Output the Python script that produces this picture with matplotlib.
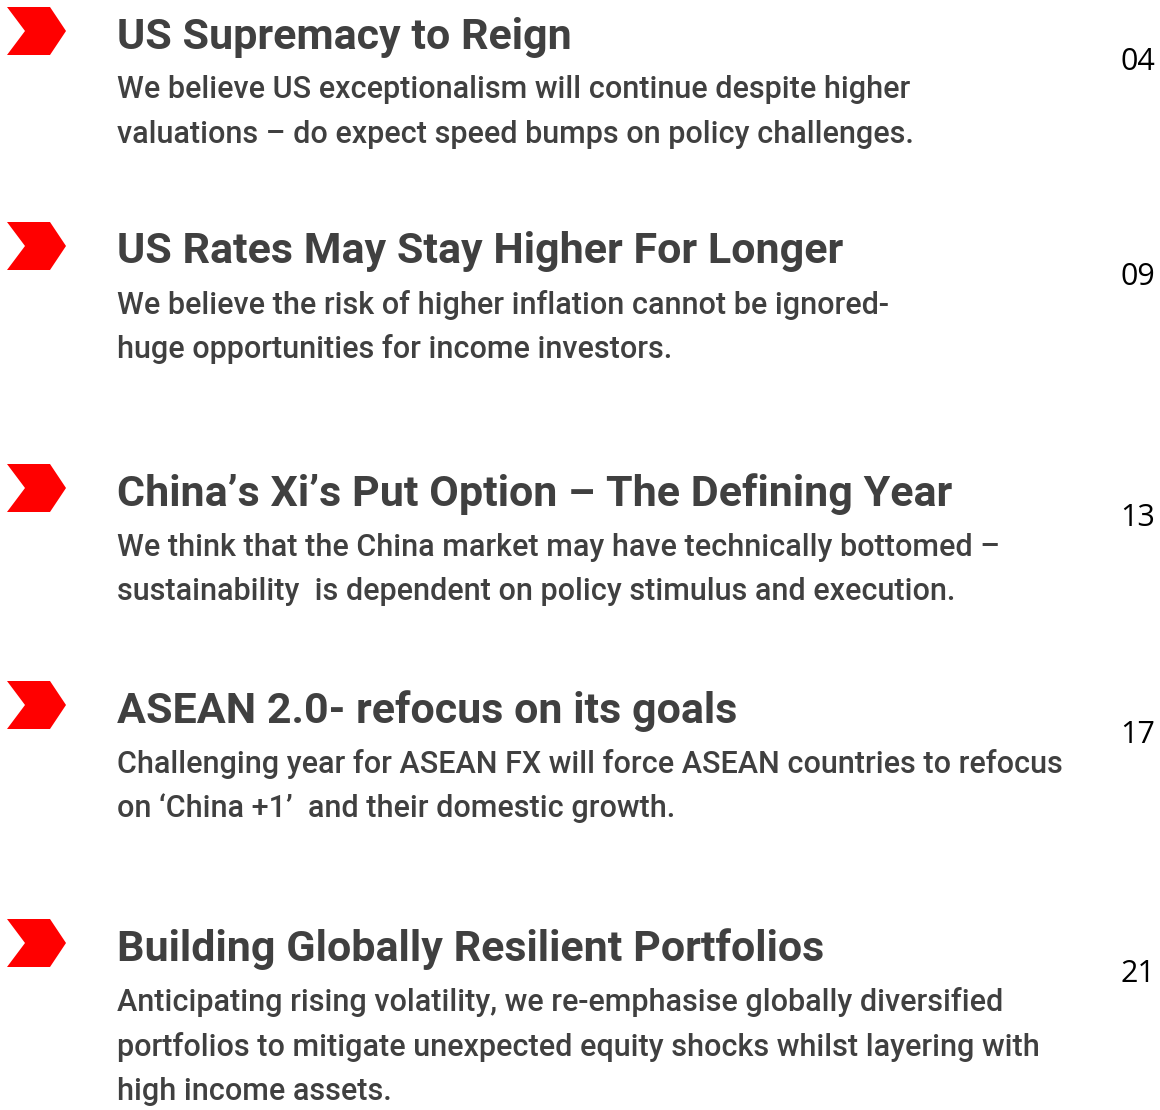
import matplotlib.pyplot as plt
from matplotlib import font_manager
from matplotlib.patches import Polygon

# no condensed face installed, fall back to Roboto
names = {f.name for f in font_manager.fontManager.ttflist}
head_font = 'Liberation Sans Narrow' if 'Liberation Sans Narrow' in names else 'Roboto'

titles = [
    "US Supremacy to Reign",
    "US Rates May Stay Higher For Longer",
    "China\u2019s Xi\u2019s Put Option \u2013 The Defining Year",
    "ASEAN 2.0- refocus on its goals",
    "Building Globally Resilient Portfolios",
]
bodies = [
    ["We believe US exceptionalism will continue despite higher",
     "valuations \u2013 do expect speed bumps on policy challenges."],
    ["We believe the risk of higher inflation cannot be ignored-",
     "huge opportunities for income investors."],
    ["We think that the China market may have technically bottomed \u2013",
     "sustainability  is dependent on policy stimulus and execution."],
    ["Challenging year for ASEAN FX will force ASEAN countries to refocus",
     "on \u2018China +1\u2019  and their domestic growth."],
    ["Anticipating rising volatility, we re-emphasise globally diversified",
     "portfolios to mitigate unexpected equity shocks whilst layering with",
     "high income assets."],
]
pages = ["04", "09", "13", "17", "21"]

# vertical layout (pixel rows)
title_y = [37, 252, 494, 711, 949]
page_y = [62, 277, 518, 735, 974]
line_gap = 44.5

fig = plt.figure(figsize=(11.6, 11.1), dpi=100)
ax = fig.add_axes([0, 0, 1, 1])
ax.set_xlim(0, 1160)
ax.set_ylim(1110, 0)
ax.axis('off')

text_col = '#404040'
# chevron outline relative to its centre
chev = [(-30, -24), (13, -24), (29, 0), (13, 24), (-30, 24), (-12, 0)]

for i, t in enumerate(titles):
    cy = title_y[i] - 6
    ax.add_patch(Polygon([(37 + dx, cy + dy) for dx, dy in chev],
                         closed=True, color='#ff0000', lw=0))
    ax.text(117, title_y[i], t, fontsize=31, fontweight='bold',
            family=head_font, color=text_col, va='center', ha='left')
    for j, line in enumerate(bodies[i]):
        ax.text(117, title_y[i] + 53 + j * line_gap, line, fontsize=22,
                fontweight='medium', family=head_font, color=text_col,
                va='center', ha='left')
    ax.text(1155, page_y[i], pages[i], fontsize=22, family='Open Sans',
            color='black', va='center', ha='right')

fig.savefig('out.png', dpi=100)
